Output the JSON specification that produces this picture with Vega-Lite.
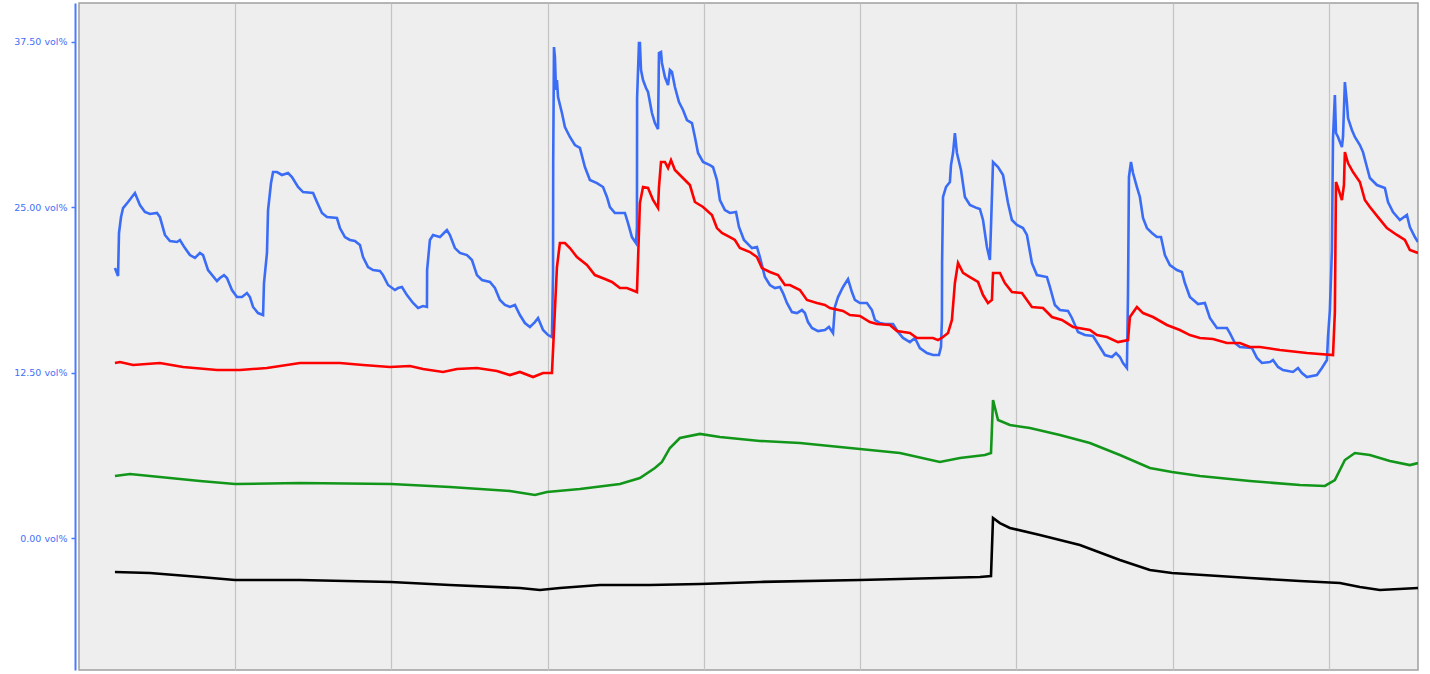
{
  "$schema": "https://vega.github.io/schema/vega-lite/v6.json",
  "width": 1339,
  "height": 667,
  "autosize": {"type": "none"},
  "padding": {"left": 79, "top": 3, "right": 12, "bottom": 4},
  "background": "#ffffff",
  "config": {
    "view": {"fill": "#eeeeee", "stroke": "#a0a0a0", "strokeWidth": 1.5}
  },
  "data": {"values": [
    {"s":"a","t":0.230,"v":20.39},{"s":"a","t":0.250,"v":19.79},{"s":"a","t":0.256,"v":23.04},{"s":"a","t":0.269,"v":24.24},{"s":"a","t":0.282,"v":24.92},{"s":"a","t":0.314,"v":25.38},{"s":"a","t":0.358,"v":26.06},{"s":"a","t":0.390,"v":25.15},{"s":"a","t":0.422,"v":24.62},{"s":"a","t":0.454,"v":24.47},{"s":"a","t":0.499,"v":24.55},{"s":"a","t":0.518,"v":24.24},{"s":"a","t":0.550,"v":22.89},{"s":"a","t":0.582,"v":22.43},{"s":"a","t":0.627,"v":22.36},{"s":"a","t":0.646,"v":22.51},{"s":"a","t":0.678,"v":21.90},{"s":"a","t":0.710,"v":21.37},{"s":"a","t":0.742,"v":21.15},{"s":"a","t":0.774,"v":21.53},{"s":"a","t":0.794,"v":21.37},{"s":"a","t":0.826,"v":20.24},{"s":"a","t":0.883,"v":19.41},{"s":"a","t":0.902,"v":19.64},{"s":"a","t":0.928,"v":19.86},{"s":"a","t":0.947,"v":19.64},{"s":"a","t":0.979,"v":18.73},{"s":"a","t":1.011,"v":18.20},{"s":"a","t":1.043,"v":18.20},{"s":"a","t":1.075,"v":18.50},{"s":"a","t":1.094,"v":18.20},{"s":"a","t":1.114,"v":17.45},{"s":"a","t":1.146,"v":16.99},{"s":"a","t":1.178,"v":16.84},{"s":"a","t":1.184,"v":19.26},{"s":"a","t":1.203,"v":21.53},{"s":"a","t":1.210,"v":24.77},{"s":"a","t":1.229,"v":26.81},{"s":"a","t":1.242,"v":27.64},{"s":"a","t":1.267,"v":27.64},{"s":"a","t":1.299,"v":27.42},{"s":"a","t":1.338,"v":27.57},{"s":"a","t":1.363,"v":27.27},{"s":"a","t":1.402,"v":26.51},{"s":"a","t":1.434,"v":26.13},{"s":"a","t":1.498,"v":26.06},{"s":"a","t":1.523,"v":25.38},{"s":"a","t":1.555,"v":24.55},{"s":"a","t":1.587,"v":24.24},{"s":"a","t":1.651,"v":24.17},{"s":"a","t":1.670,"v":23.41},{"s":"a","t":1.702,"v":22.73},{"s":"a","t":1.734,"v":22.51},{"s":"a","t":1.766,"v":22.43},{"s":"a","t":1.798,"v":22.13},{"s":"a","t":1.818,"v":21.22},{"s":"a","t":1.850,"v":20.47},{"s":"a","t":1.882,"v":20.24},{"s":"a","t":1.926,"v":20.17},{"s":"a","t":1.946,"v":19.86},{"s":"a","t":1.978,"v":19.11},{"s":"a","t":2.022,"v":18.73},{"s":"a","t":2.042,"v":18.88},{"s":"a","t":2.067,"v":18.96},{"s":"a","t":2.099,"v":18.35},{"s":"a","t":2.138,"v":17.75},{"s":"a","t":2.170,"v":17.37},{"s":"a","t":2.202,"v":17.52},{"s":"a","t":2.227,"v":17.45},{"s":"a","t":2.228,"v":20.24},{"s":"a","t":2.246,"v":22.51},{"s":"a","t":2.266,"v":22.89},{"s":"a","t":2.310,"v":22.73},{"s":"a","t":2.342,"v":23.11},{"s":"a","t":2.355,"v":23.26},{"s":"a","t":2.374,"v":22.89},{"s":"a","t":2.406,"v":21.90},{"s":"a","t":2.438,"v":21.53},{"s":"a","t":2.483,"v":21.37},{"s":"a","t":2.515,"v":21.00},{"s":"a","t":2.547,"v":19.86},{"s":"a","t":2.579,"v":19.49},{"s":"a","t":2.630,"v":19.34},{"s":"a","t":2.662,"v":18.88},{"s":"a","t":2.694,"v":17.98},{"s":"a","t":2.726,"v":17.60},{"s":"a","t":2.758,"v":17.45},{"s":"a","t":2.790,"v":17.60},{"s":"a","t":2.822,"v":16.84},{"s":"a","t":2.854,"v":16.24},{"s":"a","t":2.886,"v":15.94},{"s":"a","t":2.918,"v":16.31},{"s":"a","t":2.938,"v":16.62},{"s":"a","t":2.970,"v":15.71},{"s":"a","t":3.002,"v":15.33},{"s":"a","t":3.027,"v":15.18},{"s":"a","t":3.034,"v":20.02},{"s":"a","t":3.035,"v":28.32},{"s":"a","t":3.040,"v":37.08},{"s":"a","t":3.046,"v":36.33},{"s":"a","t":3.053,"v":33.84},{"s":"a","t":3.059,"v":34.59},{"s":"a","t":3.066,"v":33.31},{"s":"a","t":3.091,"v":32.10},{"s":"a","t":3.110,"v":31.04},{"s":"a","t":3.142,"v":30.29},{"s":"a","t":3.174,"v":29.68},{"s":"a","t":3.206,"v":29.46},{"s":"a","t":3.238,"v":28.02},{"s":"a","t":3.270,"v":27.04},{"s":"a","t":3.315,"v":26.81},{"s":"a","t":3.354,"v":26.51},{"s":"a","t":3.379,"v":25.76},{"s":"a","t":3.398,"v":25.00},{"s":"a","t":3.430,"v":24.55},{"s":"a","t":3.494,"v":24.55},{"s":"a","t":3.514,"v":23.79},{"s":"a","t":3.539,"v":22.73},{"s":"a","t":3.565,"v":22.28},{"s":"a","t":3.571,"v":23.49},{"s":"a","t":3.572,"v":33.23},{"s":"a","t":3.584,"v":37.39},{"s":"a","t":3.590,"v":37.39},{"s":"a","t":3.597,"v":35.35},{"s":"a","t":3.610,"v":34.59},{"s":"a","t":3.629,"v":33.99},{"s":"a","t":3.642,"v":33.69},{"s":"a","t":3.667,"v":32.10},{"s":"a","t":3.686,"v":31.34},{"s":"a","t":3.706,"v":30.89},{"s":"a","t":3.712,"v":36.63},{"s":"a","t":3.725,"v":36.71},{"s":"a","t":3.731,"v":35.88},{"s":"a","t":3.750,"v":34.82},{"s":"a","t":3.770,"v":34.21},{"s":"a","t":3.782,"v":35.35},{"s":"a","t":3.795,"v":35.20},{"s":"a","t":3.814,"v":34.06},{"s":"a","t":3.840,"v":32.93},{"s":"a","t":3.866,"v":32.33},{"s":"a","t":3.891,"v":31.57},{"s":"a","t":3.923,"v":31.34},{"s":"a","t":3.942,"v":30.29},{"s":"a","t":3.962,"v":29.08},{"s":"a","t":3.994,"v":28.40},{"s":"a","t":4.038,"v":28.17},{"s":"a","t":4.058,"v":28.02},{"s":"a","t":4.083,"v":27.04},{"s":"a","t":4.102,"v":25.53},{"s":"a","t":4.134,"v":24.77},{"s":"a","t":4.166,"v":24.55},{"s":"a","t":4.205,"v":24.62},{"s":"a","t":4.224,"v":23.49},{"s":"a","t":4.256,"v":22.51},{"s":"a","t":4.307,"v":21.90},{"s":"a","t":4.339,"v":21.98},{"s":"a","t":4.358,"v":21.22},{"s":"a","t":4.390,"v":19.71},{"s":"a","t":4.422,"v":19.11},{"s":"a","t":4.454,"v":18.88},{"s":"a","t":4.486,"v":18.96},{"s":"a","t":4.506,"v":18.50},{"s":"a","t":4.531,"v":17.75},{"s":"a","t":4.563,"v":17.07},{"s":"a","t":4.595,"v":16.99},{"s":"a","t":4.627,"v":17.22},{"s":"a","t":4.646,"v":16.99},{"s":"a","t":4.666,"v":16.31},{"s":"a","t":4.691,"v":15.86},{"s":"a","t":4.730,"v":15.63},{"s":"a","t":4.774,"v":15.71},{"s":"a","t":4.800,"v":15.94},{"s":"a","t":4.826,"v":15.48},{"s":"a","t":4.838,"v":17.45},{"s":"a","t":4.858,"v":18.20},{"s":"a","t":4.890,"v":18.96},{"s":"a","t":4.922,"v":19.56},{"s":"a","t":4.947,"v":18.58},{"s":"a","t":4.966,"v":17.98},{"s":"a","t":4.998,"v":17.75},{"s":"a","t":5.043,"v":17.75},{"s":"a","t":5.075,"v":17.22},{"s":"a","t":5.094,"v":16.47},{"s":"a","t":5.126,"v":16.24},{"s":"a","t":5.158,"v":16.16},{"s":"a","t":5.210,"v":16.16},{"s":"a","t":5.242,"v":15.56},{"s":"a","t":5.274,"v":15.11},{"s":"a","t":5.318,"v":14.80},{"s":"a","t":5.350,"v":15.11},{"s":"a","t":5.382,"v":14.35},{"s":"a","t":5.427,"v":13.97},{"s":"a","t":5.466,"v":13.82},{"s":"a","t":5.504,"v":13.82},{"s":"a","t":5.517,"v":14.43},{"s":"a","t":5.523,"v":16.47},{"s":"a","t":5.524,"v":20.77},{"s":"a","t":5.530,"v":25.76},{"s":"a","t":5.549,"v":26.51},{"s":"a","t":5.574,"v":26.89},{"s":"a","t":5.581,"v":28.17},{"s":"a","t":5.594,"v":29.08},{"s":"a","t":5.606,"v":30.59},{"s":"a","t":5.619,"v":29.08},{"s":"a","t":5.645,"v":27.80},{"s":"a","t":5.670,"v":25.76},{"s":"a","t":5.702,"v":25.15},{"s":"a","t":5.747,"v":24.92},{"s":"a","t":5.766,"v":24.85},{"s":"a","t":5.786,"v":24.02},{"s":"a","t":5.811,"v":21.98},{"s":"a","t":5.830,"v":21.00},{"s":"a","t":5.837,"v":23.49},{"s":"a","t":5.850,"v":28.40},{"s":"a","t":5.882,"v":28.02},{"s":"a","t":5.914,"v":27.42},{"s":"a","t":5.946,"v":25.30},{"s":"a","t":5.971,"v":24.02},{"s":"a","t":6.003,"v":23.64},{"s":"a","t":6.042,"v":23.41},{"s":"a","t":6.067,"v":22.89},{"s":"a","t":6.099,"v":20.77},{"s":"a","t":6.131,"v":19.86},{"s":"a","t":6.195,"v":19.71},{"s":"a","t":6.214,"v":18.96},{"s":"a","t":6.246,"v":17.60},{"s":"a","t":6.278,"v":17.22},{"s":"a","t":6.330,"v":17.15},{"s":"a","t":6.355,"v":16.62},{"s":"a","t":6.394,"v":15.56},{"s":"a","t":6.438,"v":15.33},{"s":"a","t":6.490,"v":15.26},{"s":"a","t":6.534,"v":14.43},{"s":"a","t":6.566,"v":13.82},{"s":"a","t":6.611,"v":13.67},{"s":"a","t":6.637,"v":13.97},{"s":"a","t":6.662,"v":13.67},{"s":"a","t":6.682,"v":13.22},{"s":"a","t":6.707,"v":12.84},{"s":"a","t":6.714,"v":18.50},{"s":"a","t":6.720,"v":27.27},{"s":"a","t":6.733,"v":28.40},{"s":"a","t":6.746,"v":27.57},{"s":"a","t":6.771,"v":26.51},{"s":"a","t":6.790,"v":25.76},{"s":"a","t":6.810,"v":24.17},{"s":"a","t":6.835,"v":23.41},{"s":"a","t":6.867,"v":23.04},{"s":"a","t":6.899,"v":22.73},{"s":"a","t":6.925,"v":22.73},{"s":"a","t":6.950,"v":21.37},{"s":"a","t":6.982,"v":20.62},{"s":"a","t":7.027,"v":20.24},{"s":"a","t":7.059,"v":20.09},{"s":"a","t":7.078,"v":19.26},{"s":"a","t":7.110,"v":18.20},{"s":"a","t":7.162,"v":17.67},{"s":"a","t":7.206,"v":17.75},{"s":"a","t":7.238,"v":16.62},{"s":"a","t":7.283,"v":15.86},{"s":"a","t":7.347,"v":15.86},{"s":"a","t":7.366,"v":15.48},{"s":"a","t":7.398,"v":14.73},{"s":"a","t":7.430,"v":14.43},{"s":"a","t":7.507,"v":14.35},{"s":"a","t":7.539,"v":13.60},{"s":"a","t":7.571,"v":13.22},{"s":"a","t":7.622,"v":13.29},{"s":"a","t":7.642,"v":13.44},{"s":"a","t":7.674,"v":12.92},{"s":"a","t":7.706,"v":12.69},{"s":"a","t":7.770,"v":12.54},{"s":"a","t":7.802,"v":12.84},{"s":"a","t":7.827,"v":12.46},{"s":"a","t":7.859,"v":12.16},{"s":"a","t":7.923,"v":12.31},{"s":"a","t":7.955,"v":12.84},{"s":"a","t":7.987,"v":13.44},{"s":"a","t":7.994,"v":15.18},{"s":"a","t":8.006,"v":17.22},{"s":"a","t":8.019,"v":21.75},{"s":"a","t":8.026,"v":30.21},{"s":"a","t":8.038,"v":33.46},{"s":"a","t":8.045,"v":30.59},{"s":"a","t":8.058,"v":30.29},{"s":"a","t":8.083,"v":29.53},{"s":"a","t":8.090,"v":30.29},{"s":"a","t":8.102,"v":34.44},{"s":"a","t":8.115,"v":32.86},{"s":"a","t":8.122,"v":31.72},{"s":"a","t":8.147,"v":30.82},{"s":"a","t":8.166,"v":30.29},{"s":"a","t":8.198,"v":29.68},{"s":"a","t":8.218,"v":29.15},{"s":"a","t":8.243,"v":28.02},{"s":"a","t":8.262,"v":27.19},{"s":"a","t":8.307,"v":26.66},{"s":"a","t":8.358,"v":26.44},{"s":"a","t":8.378,"v":25.38},{"s":"a","t":8.410,"v":24.62},{"s":"a","t":8.454,"v":24.02},{"s":"a","t":8.499,"v":24.40},{"s":"a","t":8.518,"v":23.49},{"s":"a","t":8.550,"v":22.73},{"s":"a","t":8.570,"v":22.36},

    {"s":"b","t":0.230,"v":13.22},{"s":"b","t":0.262,"v":13.29},{"s":"b","t":0.346,"v":13.07},{"s":"b","t":0.518,"v":13.22},{"s":"b","t":0.666,"v":12.92},{"s":"b","t":0.883,"v":12.69},{"s":"b","t":1.030,"v":12.69},{"s":"b","t":1.203,"v":12.84},{"s":"b","t":1.414,"v":13.22},{"s":"b","t":1.670,"v":13.22},{"s":"b","t":1.818,"v":13.07},{"s":"b","t":1.990,"v":12.92},{"s":"b","t":2.118,"v":12.99},{"s":"b","t":2.202,"v":12.76},{"s":"b","t":2.330,"v":12.54},{"s":"b","t":2.419,"v":12.76},{"s":"b","t":2.547,"v":12.84},{"s":"b","t":2.675,"v":12.61},{"s":"b","t":2.758,"v":12.31},{"s":"b","t":2.822,"v":12.54},{"s":"b","t":2.906,"v":12.16},{"s":"b","t":2.970,"v":12.46},{"s":"b","t":3.027,"v":12.46},{"s":"b","t":3.034,"v":14.20},{"s":"b","t":3.046,"v":17.22},{"s":"b","t":3.059,"v":20.47},{"s":"b","t":3.078,"v":22.28},{"s":"b","t":3.110,"v":22.28},{"s":"b","t":3.142,"v":21.90},{"s":"b","t":3.187,"v":21.22},{"s":"b","t":3.251,"v":20.62},{"s":"b","t":3.302,"v":19.86},{"s":"b","t":3.366,"v":19.56},{"s":"b","t":3.411,"v":19.34},{"s":"b","t":3.462,"v":18.88},{"s":"b","t":3.507,"v":18.88},{"s":"b","t":3.571,"v":18.58},{"s":"b","t":3.578,"v":21.00},{"s":"b","t":3.590,"v":25.30},{"s":"b","t":3.610,"v":26.51},{"s":"b","t":3.642,"v":26.44},{"s":"b","t":3.674,"v":25.53},{"s":"b","t":3.706,"v":24.92},{"s":"b","t":3.712,"v":26.51},{"s":"b","t":3.725,"v":28.40},{"s":"b","t":3.750,"v":28.40},{"s":"b","t":3.770,"v":27.95},{"s":"b","t":3.789,"v":28.55},{"s":"b","t":3.814,"v":27.80},{"s":"b","t":3.859,"v":27.27},{"s":"b","t":3.910,"v":26.66},{"s":"b","t":3.942,"v":25.38},{"s":"b","t":3.994,"v":25.00},{"s":"b","t":4.051,"v":24.40},{"s":"b","t":4.083,"v":23.41},{"s":"b","t":4.115,"v":23.04},{"s":"b","t":4.166,"v":22.73},{"s":"b","t":4.198,"v":22.51},{"s":"b","t":4.230,"v":21.90},{"s":"b","t":4.294,"v":21.60},{"s":"b","t":4.339,"v":21.22},{"s":"b","t":4.371,"v":20.39},{"s":"b","t":4.422,"v":20.09},{"s":"b","t":4.474,"v":19.86},{"s":"b","t":4.518,"v":19.11},{"s":"b","t":4.550,"v":19.11},{"s":"b","t":4.614,"v":18.73},{"s":"b","t":4.659,"v":17.98},{"s":"b","t":4.723,"v":17.75},{"s":"b","t":4.774,"v":17.60},{"s":"b","t":4.806,"v":17.37},{"s":"b","t":4.890,"v":17.15},{"s":"b","t":4.934,"v":16.84},{"s":"b","t":4.998,"v":16.77},{"s":"b","t":5.062,"v":16.31},{"s":"b","t":5.107,"v":16.16},{"s":"b","t":5.190,"v":16.09},{"s":"b","t":5.235,"v":15.63},{"s":"b","t":5.318,"v":15.48},{"s":"b","t":5.363,"v":15.11},{"s":"b","t":5.466,"v":15.11},{"s":"b","t":5.498,"v":14.95},{"s":"b","t":5.530,"v":15.18},{"s":"b","t":5.562,"v":15.48},{"s":"b","t":5.587,"v":16.47},{"s":"b","t":5.606,"v":19.26},{"s":"b","t":5.626,"v":20.77},{"s":"b","t":5.658,"v":20.02},{"s":"b","t":5.702,"v":19.71},{"s":"b","t":5.754,"v":19.34},{"s":"b","t":5.786,"v":18.35},{"s":"b","t":5.818,"v":17.75},{"s":"b","t":5.843,"v":17.98},{"s":"b","t":5.850,"v":20.02},{"s":"b","t":5.894,"v":20.02},{"s":"b","t":5.926,"v":19.26},{"s":"b","t":5.971,"v":18.58},{"s":"b","t":6.035,"v":18.50},{"s":"b","t":6.099,"v":17.45},{"s":"b","t":6.170,"v":17.37},{"s":"b","t":6.227,"v":16.69},{"s":"b","t":6.291,"v":16.47},{"s":"b","t":6.362,"v":15.94},{"s":"b","t":6.470,"v":15.71},{"s":"b","t":6.515,"v":15.33},{"s":"b","t":6.579,"v":15.18},{"s":"b","t":6.650,"v":14.80},{"s":"b","t":6.714,"v":14.95},{"s":"b","t":6.726,"v":16.69},{"s":"b","t":6.771,"v":17.45},{"s":"b","t":6.810,"v":16.99},{"s":"b","t":6.874,"v":16.69},{"s":"b","t":6.963,"v":16.09},{"s":"b","t":7.046,"v":15.71},{"s":"b","t":7.110,"v":15.33},{"s":"b","t":7.174,"v":15.11},{"s":"b","t":7.258,"v":15.03},{"s":"b","t":7.347,"v":14.73},{"s":"b","t":7.430,"v":14.73},{"s":"b","t":7.494,"v":14.43},{"s":"b","t":7.558,"v":14.43},{"s":"b","t":7.686,"v":14.20},{"s":"b","t":7.859,"v":13.97},{"s":"b","t":8.026,"v":13.82},{"s":"b","t":8.038,"v":17.07},{"s":"b","t":8.045,"v":26.89},{"s":"b","t":8.058,"v":26.44},{"s":"b","t":8.083,"v":25.53},{"s":"b","t":8.096,"v":26.66},{"s":"b","t":8.102,"v":29.15},{"s":"b","t":8.122,"v":28.32},{"s":"b","t":8.154,"v":27.64},{"s":"b","t":8.198,"v":26.89},{"s":"b","t":8.230,"v":25.53},{"s":"b","t":8.262,"v":25.00},{"s":"b","t":8.314,"v":24.24},{"s":"b","t":8.371,"v":23.41},{"s":"b","t":8.435,"v":22.89},{"s":"b","t":8.486,"v":22.51},{"s":"b","t":8.518,"v":21.75},{"s":"b","t":8.570,"v":21.53},

    {"s":"c","t":0.230,"v":4.68},{"s":"c","t":0.326,"v":4.83},{"s":"c","t":0.774,"v":4.31},{"s":"c","t":0.998,"v":4.08},{"s":"c","t":1.414,"v":4.15},{"s":"c","t":1.997,"v":4.08},{"s":"c","t":2.374,"v":3.85},{"s":"c","t":2.758,"v":3.55},{"s":"c","t":2.918,"v":3.25},{"s":"c","t":2.995,"v":3.47},{"s":"c","t":3.206,"v":3.70},{"s":"c","t":3.462,"v":4.08},{"s":"c","t":3.590,"v":4.53},{"s":"c","t":3.686,"v":5.29},{"s":"c","t":3.731,"v":5.74},{"s":"c","t":3.782,"v":6.80},{"s":"c","t":3.846,"v":7.55},{"s":"c","t":3.974,"v":7.86},{"s":"c","t":4.102,"v":7.63},{"s":"c","t":4.358,"v":7.33},{"s":"c","t":4.614,"v":7.18},{"s":"c","t":4.998,"v":6.72},{"s":"c","t":5.254,"v":6.42},{"s":"c","t":5.510,"v":5.74},{"s":"c","t":5.638,"v":6.04},{"s":"c","t":5.798,"v":6.27},{"s":"c","t":5.837,"v":6.42},{"s":"c","t":5.850,"v":10.42},{"s":"c","t":5.882,"v":8.91},{"s":"c","t":5.958,"v":8.53},{"s":"c","t":6.086,"v":8.31},{"s":"c","t":6.278,"v":7.78},{"s":"c","t":6.470,"v":7.18},{"s":"c","t":6.662,"v":6.27},{"s":"c","t":6.854,"v":5.29},{"s":"c","t":6.995,"v":4.98},{"s":"c","t":7.174,"v":4.68},{"s":"c","t":7.494,"v":4.31},{"s":"c","t":7.814,"v":4.00},{"s":"c","t":7.974,"v":3.93},{"s":"c","t":8.038,"v":4.38},{"s":"c","t":8.102,"v":5.89},{"s":"c","t":8.166,"v":6.42},{"s":"c","t":8.262,"v":6.27},{"s":"c","t":8.390,"v":5.82},{"s":"c","t":8.518,"v":5.51},{"s":"c","t":8.570,"v":5.66},

    {"s":"d","t":0.230,"v":-2.57},{"s":"d","t":0.454,"v":-2.64},{"s":"d","t":0.774,"v":-2.95},{"s":"d","t":0.998,"v":-3.17},{"s":"d","t":1.414,"v":-3.17},{"s":"d","t":1.997,"v":-3.32},{"s":"d","t":2.374,"v":-3.55},{"s":"d","t":2.822,"v":-3.78},{"s":"d","t":2.950,"v":-3.93},{"s":"d","t":3.078,"v":-3.78},{"s":"d","t":3.334,"v":-3.55},{"s":"d","t":3.654,"v":-3.55},{"s":"d","t":3.974,"v":-3.47},{"s":"d","t":4.358,"v":-3.32},{"s":"d","t":4.998,"v":-3.17},{"s":"d","t":5.510,"v":-3.02},{"s":"d","t":5.766,"v":-2.95},{"s":"d","t":5.837,"v":-2.87},{"s":"d","t":5.850,"v":1.51},{"s":"d","t":5.894,"v":1.13},{"s":"d","t":5.958,"v":0.76},{"s":"d","t":6.150,"v":0.23},{"s":"d","t":6.406,"v":-0.53},{"s":"d","t":6.662,"v":-1.66},{"s":"d","t":6.854,"v":-2.42},{"s":"d","t":6.995,"v":-2.64},{"s":"d","t":7.494,"v":-3.02},{"s":"d","t":7.814,"v":-3.25},{"s":"d","t":8.070,"v":-3.40},{"s":"d","t":8.198,"v":-3.70},{"s":"d","t":8.326,"v":-3.93},{"s":"d","t":8.570,"v":-3.78}
  ]},
  "mark": {"type": "line", "strokeWidth": 2.6, "interpolate": "linear", "clip": true},
  "encoding": {
    "x": {
      "field": "t", "type": "quantitative",
      "scale": {"domain": [0, 8.57], "nice": false, "zero": false},
      "axis": {
        "values": [1, 2, 3, 4, 5, 6, 7, 8],
        "grid": true, "gridColor": "#c4c4c4", "gridWidth": 1.2, "gridOpacity": 1,
        "labels": false, "ticks": false, "domain": false, "title": null
      }
    },
    "y": {
      "field": "v", "type": "quantitative",
      "scale": {"domain": [-9.97, 40.41], "nice": false, "zero": false},
      "axis": {
        "values": [0, 12.5, 25, 37.5],
        "labelExpr": "format(datum.value, '.2f') + ' vol%'",
        "grid": false, "offset": 4,
        "domainColor": "#4a7bff", "domainWidth": 2,
        "tickColor": "#4a7bff", "tickSize": 4, "tickWidth": 1.5,
        "labelColor": "#3f70f5", "labelFont": "DejaVu Sans", "labelFontSize": 9.5,
        "labelPadding": 4, "title": null
      }
    },
    "color": {
      "field": "s", "type": "nominal",
      "scale": {"domain": ["a", "b", "c", "d"], "range": ["#3a6cf6", "#ff0000", "#12961a", "#000000"]},
      "legend": null
    }
  }
}
